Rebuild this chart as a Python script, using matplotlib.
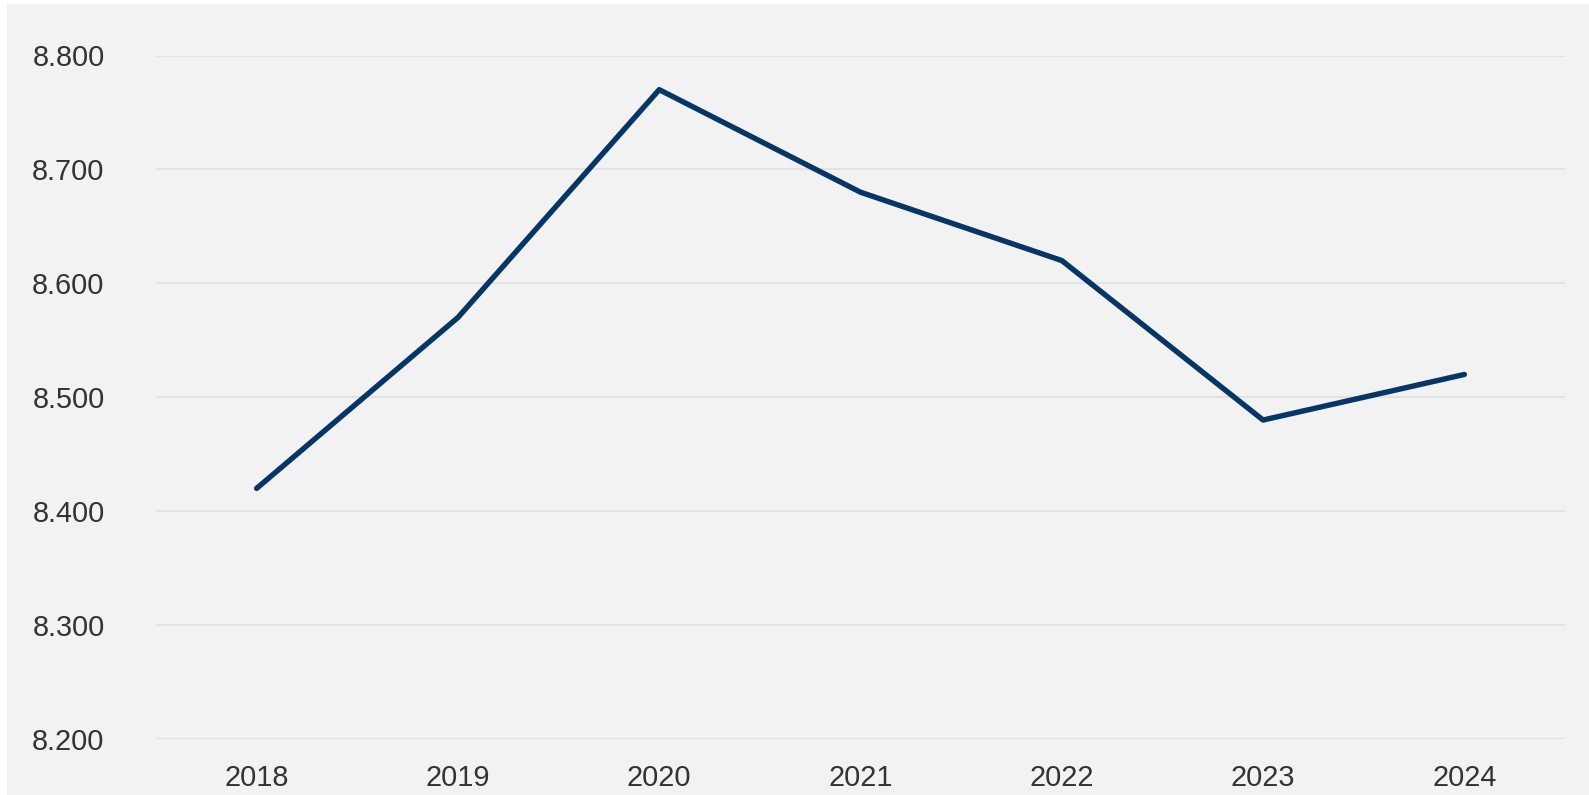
import matplotlib
matplotlib.use("Agg")
import matplotlib.pyplot as plt
from matplotlib.patches import Rectangle
from matplotlib.ticker import FuncFormatter

# data
years = ['2018', '2019', '2020', '2021', '2022', '2023', '2024']
values = [8.42, 8.57, 8.77, 8.68, 8.62, 8.48, 8.52]
y_ticks = [8.2, 8.3, 8.4, 8.5, 8.6, 8.7, 8.8]

plt.rcParams['font.family'] = ['Liberation Sans', 'DejaVu Sans']

W, H = 1589, 795
fig = plt.figure(figsize=(W / 100, H / 100), dpi=100, facecolor='white')

# grey panel with a thin white margin at top and left
bg = Rectangle((7 / W, 0), 1 - 7 / W, 1 - 4 / H,
               transform=fig.transFigure, facecolor='#f2f2f2',
               edgecolor='none', zorder=-10)
fig.add_artist(bg)

ax = fig.add_axes([156 / W, 1 - 739 / H, (1565 - 156) / W, (739 - 55.5) / H])
ax.set_zorder(1)
ax.set_facecolor('none')

x = list(range(len(years)))
ax.plot(x, values, color='#053666', lw=3.9, solid_capstyle='round',
        solid_joinstyle='round', zorder=3, clip_on=False)

ax.set_xlim(-0.5, len(years) - 0.5)
ax.set_ylim(8.2, 8.8)
ax.set_xticks(x)
ax.set_xticklabels(years)
ax.set_yticks(y_ticks)
ax.yaxis.set_major_formatter(FuncFormatter(lambda v, p: f"{v:.3f}"))

ax.grid(axis='y', color='#e2e2e2', lw=1.5, zorder=1)
ax.set_axisbelow(True)
for s in ax.spines.values():
    s.set_visible(False)

ax.tick_params(axis='both', length=0, labelsize=20.8, colors='#333333')
ax.tick_params(axis='y', pad=37)
ax.tick_params(axis='x', pad=18)

fig.savefig('out.png', dpi=100, facecolor=fig.get_facecolor())
